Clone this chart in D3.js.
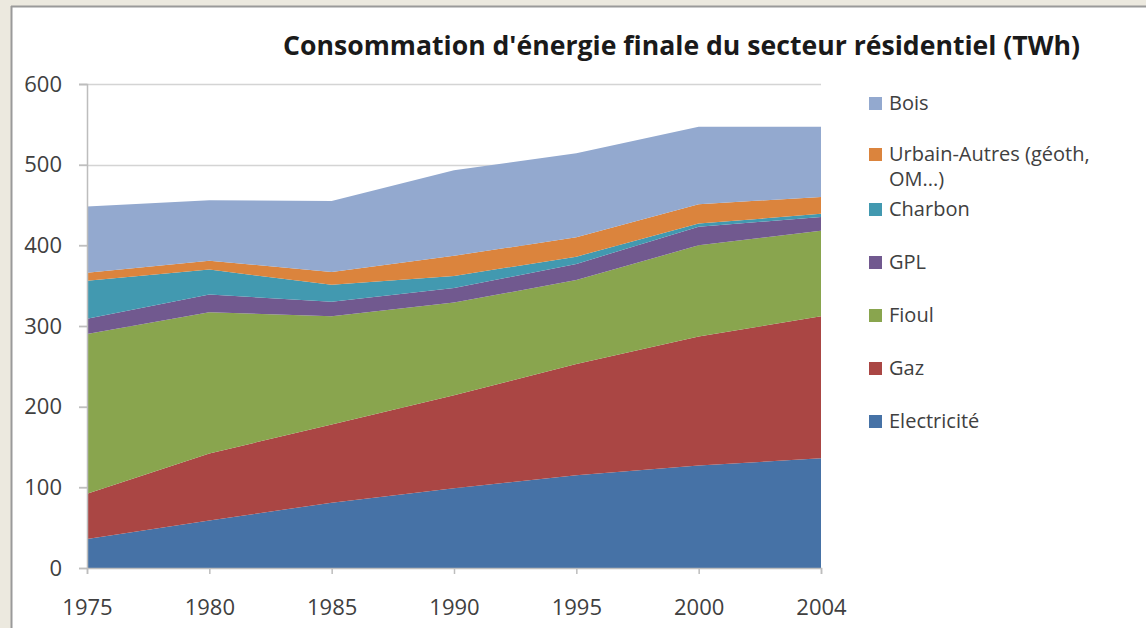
<!DOCTYPE html>
<html>
<head>
<meta charset="utf-8">
<script src="https://cdnjs.cloudflare.com/ajax/libs/d3/7.8.5/d3.min.js"></script>
<style>
html,body{margin:0;padding:0;background:#ECE9DF;}
svg{display:block;}
</style>
</head>
<body>
<svg id="chart" width="1146" height="628"></svg>
<script>
const years = ["1975","1980","1985","1990","1995","2000","2004"];
const seriesNames = ["Electricité","Gaz","Fioul","GPL","Charbon","Urbain-Autres (géoth, OM...)","Bois"];
const electricite = [36, 59, 81, 99, 115, 127, 136];
const gaz = [56, 83, 97, 115, 138, 160, 176];
const fioul = [198, 175, 134, 115, 104, 113, 106];
const gpl = [19, 22, 18, 18, 20, 23, 17];
const charbon = [47, 31, 21, 15, 9, 4, 4];
const urbain = [10, 11, 16, 25, 24, 24, 21];
const bois = [82, 75, 88, 106, 104, 96, 87];
const yTicks = [0, 100, 200, 300, 400, 500, 600];
const colors = ["#4672A6","#AA4644","#89A54E","#71598F","#4299B0","#DB843D","#93A9CF"];
const title = "Consommation d'énergie finale du secteur résidentiel (TWh)";

const seriesValues = [electricite, gaz, fioul, gpl, charbon, urbain, bois];
const rows = years.map((y, i) => {
  const r = {year: y};
  seriesNames.forEach((n, k) => r[n] = seriesValues[k][i]);
  return r;
});

const svg = d3.select("#chart");
// background frame
svg.append("rect").attr("x",0).attr("y",0).attr("width",1146).attr("height",628).attr("fill","#ECE9DF");
svg.append("rect").attr("x",11).attr("y",6).attr("width",1140).attr("height",630).attr("fill","#FFFFFF");
svg.append("line").attr("x1",11).attr("x2",1146).attr("y1",6.5).attr("y2",6.5).attr("stroke","#9A9A9A").attr("stroke-width",2);
svg.append("line").attr("x1",11.5).attr("x2",11.5).attr("y1",6).attr("y2",628).attr("stroke","#9A9A9A").attr("stroke-width",2);

const x = d3.scalePoint().domain(years).range([87, 821]);
const y = d3.scaleLinear().domain([0, 600]).range([568, 84]);

// gridlines
svg.append("g").selectAll("line").data(yTicks.filter(t => t > 0)).join("line")
  .attr("x1", 79).attr("x2", 821)
  .attr("y1", d => Math.round(y(d)) + 0.5).attr("y2", d => Math.round(y(d)) + 0.5)
  .attr("stroke", "#D4D4D4").attr("stroke-width", 1.5);

const stack = d3.stack().keys(seriesNames);
const stacked = stack(rows);
const area = d3.area()
  .x(d => x(d.data.year))
  .y0(d => y(d[0]))
  .y1(d => y(d[1]));

svg.append("g").selectAll("path").data(stacked).join("path")
  .attr("d", area)
  .attr("fill", (d, i) => colors[i]);

// y axis
const yAxis = d3.axisLeft(y).tickValues(yTicks).tickSize(8).tickPadding(17);
const gy = svg.append("g").attr("transform", "translate(87,0)").call(yAxis);
gy.select(".domain").attr("stroke", "#BDBDBD").attr("stroke-width", 1.5);
gy.selectAll(".tick line").attr("stroke", "#BDBDBD").attr("stroke-width", 1.5);
gy.selectAll(".tick text").attr("font-family", "'Open Sans', sans-serif").attr("font-size", 22).attr("fill", "#404040");

// x axis
const xAxis = d3.axisBottom(x).tickSize(6).tickPadding(25);
const gx = svg.append("g").attr("transform", "translate(0,568)").call(xAxis);
gx.select(".domain").attr("stroke", "#BDBDBD").attr("stroke-width", 1.5);
gx.selectAll(".tick line").attr("stroke", "#BDBDBD").attr("stroke-width", 1.5);
gx.selectAll(".tick text").attr("font-family", "'Open Sans', sans-serif").attr("font-size", 22).attr("fill", "#404040");

// title
svg.append("text").attr("x", 283).attr("y", 55)
  .attr("font-family", "'Open Sans', sans-serif").attr("font-weight", "bold").attr("font-size", 27)
  .attr("fill", "#1A1A1A")
  .attr("textLength", 797).attr("lengthAdjust", "spacingAndGlyphs")
  .text(title);

// legend (top to bottom reversed order)
const legendItems = [
  {name: seriesNames[6], color: colors[6], y: 103, lines: ["Bois"]},
  {name: seriesNames[5], color: colors[5], y: 154, lines: ["Urbain-Autres (géoth,", "OM...)"]},
  {name: seriesNames[4], color: colors[4], y: 209, lines: ["Charbon"]},
  {name: seriesNames[3], color: colors[3], y: 262, lines: ["GPL"]},
  {name: seriesNames[2], color: colors[2], y: 315, lines: ["Fioul"]},
  {name: seriesNames[1], color: colors[1], y: 368, lines: ["Gaz"]},
  {name: seriesNames[0], color: colors[0], y: 421, lines: ["Electricité"]}
];
const lg = svg.append("g").selectAll("g").data(legendItems).join("g");
lg.append("rect").attr("x", 869).attr("y", d => d.y - 6).attr("width", 13).attr("height", 13).attr("fill", d => d.color);
lg.each(function(d) {
  const t = d3.select(this).append("text")
    .attr("font-family", "'Open Sans', sans-serif").attr("font-size", 20).attr("fill", "#404040");
  d.lines.forEach((ln, i) => {
    t.append("tspan").attr("x", 889).attr("y", d.y + 7 + i * 25).text(ln);
  });
});
</script>
</body>
</html>
